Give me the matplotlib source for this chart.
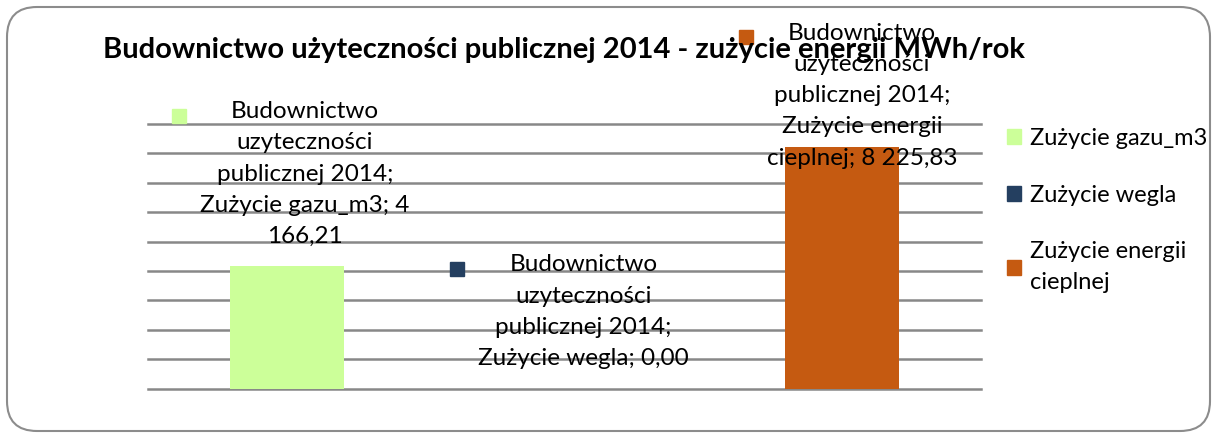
# Budownictwo użyteczności publicznej 2014 - zużycie energii

import textwrap
import numpy as np
import matplotlib
matplotlib.use('Agg')
import matplotlib.pyplot as plt
import matplotlib.patches as mpatches

plt.rcParams['font.family'] = ['Lato', 'DejaVu Sans']

# Data
series_name = 'Budownictwo uzyteczności publicznej 2014'
categories = ['Zużycie gazu_m3', 'Zużycie wegla', 'Zużycie energii cieplnej']
legend_labels = ['Zużycie gazu_m3', 'Zużycie wegla', 'Zużycie energii\ncieplnej']
values = [4166.21, 0.00, 8225.83]
colors = ['#CCFF99', '#243F60', '#C55A11']
title = 'Budownictwo użyteczności publicznej 2014 - zużycie energii MWh/rok'

# pixel offsets of the data labels from the bar tops (Excel placed them oddly)
label_offsets = [(18, 92), (19, 77), (20, 51)]


def fmt_pl(v):
    return f'{v:,.2f}'.replace(',', ' ').replace('.', ',')


fig = plt.figure(figsize=(12.13, 4.34), dpi=100)

# rounded chart frame
frame = mpatches.FancyBboxPatch((0.07, 0.03), 12.03, 4.24,
                                boxstyle='round,pad=0,rounding_size=0.3',
                                transform=fig.dpi_scale_trans,
                                facecolor='white', edgecolor='#8c8c8c', lw=1.5,
                                zorder=-1)
fig.patches.append(frame)

ax = fig.add_axes([0.122, 0.1044, 0.6865, 0.6099])
ax.set_facecolor('none')

x = np.arange(len(values))
bars = ax.bar(x, values, width=0.41, color=colors, zorder=2)

ax.set_xlim(-0.5, 2.5)
ax.set_ylim(0, 9000)
ax.set_yticks(np.arange(0, 9001, 1000))
ax.yaxis.grid(True, color='#888888', lw=1.8)
for gl in ax.get_ygridlines():
    gl.set_clip_on(False)
ax.set_axisbelow(True)
ax.tick_params(left=False, bottom=False, labelleft=False, labelbottom=False)
for s in ax.spines.values():
    s.set_visible(False)

fig.text(0.4646, 0.885, title, ha='center', va='center',
         fontsize=21, fontweight='bold')

# data labels
labels = []
for i, v in enumerate(values):
    txt = '\n'.join(textwrap.wrap(f'{series_name}; {categories[i]}; {fmt_pl(v)}', 19))
    a = ax.annotate(txt, xy=(x[i], v), xytext=label_offsets[i], textcoords='offset pixels',
                    ha='center', va='center', fontsize=17.5, linespacing=1.6,
                    annotation_clip=False, zorder=3)
    labels.append(a)

# legend keys in front of the labels
fig.canvas.draw()
r = fig.canvas.get_renderer()
inv = ax.transData.inverted()
for i, a in enumerate(labels):
    bb = a.get_window_extent(r)
    n = len(a.get_text().split('\n'))
    mx, my = inv.transform((bb.x0 - 21, bb.y1 - bb.height / n / 2))
    ax.plot([mx], [my], marker='s', markersize=10, color=colors[i],
            linestyle='none', clip_on=False, zorder=3)

handles = [mpatches.Patch(color=c) for c in colors]
leg = ax.legend(handles, legend_labels, loc='upper left', bbox_to_anchor=(1.02, 1.02),
                frameon=False, fontsize=17, handlelength=0.6, handleheight=0.6,
                handletextpad=0.4, labelspacing=1.5, borderaxespad=0)
for t in leg.get_texts():
    t.set_linespacing(1.6)

fig.savefig('out.png', dpi=100)
